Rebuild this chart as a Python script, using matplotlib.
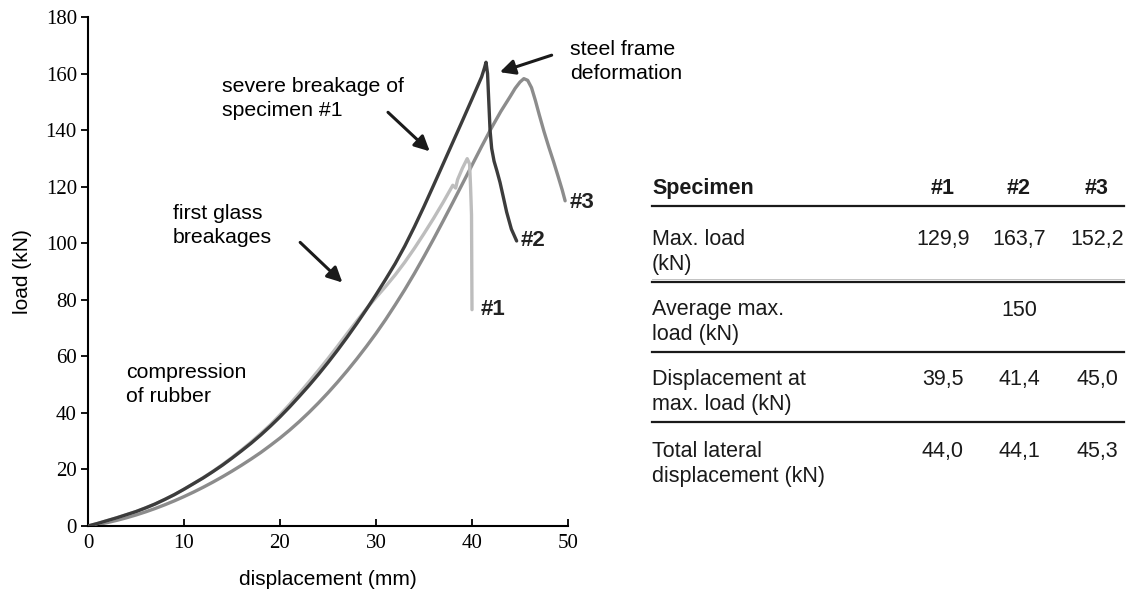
import matplotlib
matplotlib.use("Agg")
import matplotlib.pyplot as plt
from matplotlib.lines import Line2D

# ---- data ----
disp_1 = [0, 1, 2, 3, 4, 5, 6, 7, 8, 9, 10, 11, 12, 13, 14, 15, 16, 17, 18, 19, 20, 21, 22, 23, 24, 25, 26,
          27, 28, 29, 30, 31, 32, 33, 34, 35, 36, 37, 38, 38.3, 38.5, 39, 39.5, 39.75, 39.85, 39.95, 40.0]
load_1 = [0, 0.9, 1.9, 2.9, 4, 5.1, 6.4, 7.8, 9.4, 11.1, 13, 15, 17.1, 19.3, 21.7, 24.2, 26.9, 29.7, 32.7, 35.8,
          39.3, 43, 46.9, 50.9, 55, 59.2, 63.6, 68.1, 72.5, 76.8, 80.8, 84.7, 88.8, 93.3, 98.2, 103.4, 108.8,
          114.5, 120.5, 119.5, 122.5, 126.5, 129.9, 128, 120, 110, 76.5]

disp_2 = [0, 1, 2, 3, 4, 5, 6, 7, 8, 9, 10, 11, 12, 13, 14, 15, 16, 17, 18, 19, 20, 21, 22, 23, 24, 25, 26,
          27, 28, 29, 30, 31, 32, 33, 34, 35, 36, 37, 38, 39, 40, 41, 41.3, 41.46,
          41.62, 41.75, 41.88, 42.05, 42.3, 42.6, 42.92, 43.25, 43.61, 44.1, 44.65]
load_2 = [0, 0.9, 1.9, 2.9, 4, 5.1, 6.4, 7.8, 9.4, 11.1, 13, 15, 17, 19.2, 21.5, 24, 26.6, 29.3, 32.2, 35.3,
          38.6, 42.1, 45.8, 49.6, 53.6, 57.8, 62.2, 66.8, 71.6, 76.6, 81.8, 87.2, 92.8, 99, 105.8, 113, 120.5,
          128.1, 135.7, 143.3, 151, 158.8, 162, 164,
          160, 150, 140, 133.5, 129, 125.5, 121.5, 116.5, 111, 105, 100.8]

disp_3 = [0, 1, 2, 3, 4, 5, 6, 7, 8, 9, 10, 11, 12, 13, 14, 15, 16, 17, 18, 19, 20, 21, 22, 23, 24, 25, 26,
          27, 28, 29, 30, 31, 32, 33, 34, 35, 36, 37, 38, 39, 40, 41, 42, 43, 44, 44.5, 45, 45.4, 45.8,
          46.2, 46.6, 47, 47.5, 48, 48.5, 49, 49.4, 49.7]
load_3 = [0, 0.5, 1.2, 2, 2.9, 3.9, 5, 6.2, 7.5, 8.9, 10.4, 12, 13.7, 15.5, 17.4, 19.4, 21.5, 23.7, 26, 28.5,
          31.1, 33.9, 36.9, 40.1, 43.5, 47.1, 50.9, 54.9, 59.1, 63.5, 68.1, 73, 78.2, 83.6, 89.3, 95.3, 101.5,
          107.9, 114.4, 121, 127.6, 134.2, 140.6, 146.6, 152, 154.8, 157, 158.2, 157.6,
          155, 150.5, 145.5, 139.5, 134, 128.8, 123.3, 118.8, 115]

x_ticks = [0, 10, 20, 30, 40, 50]
y_ticks = [0, 20, 40, 60, 80, 100, 120, 140, 160, 180]

table_header = ["Specimen", "#1", "#2", "#3"]
table_rows = ["Max. load\n(kN)", "Average max.\nload (kN)", "Displacement at\nmax. load (kN)",
              "Total lateral\ndisplacement (kN)"]
table_vals = [["129,9", "163,7", "152,2"], ["", "150", ""], ["39,5", "41,4", "45,0"], ["44,0", "44,1", "45,3"]]

# ---- figure ----
W, H = 1128, 594
fig = plt.figure(figsize=(W / 100, H / 100), dpi=100)
fig.patch.set_facecolor("white")
ax = fig.add_axes([88 / W, 1 - 526 / H, (568 - 88) / W, (526 - 17) / H])

sans = "Liberation Sans"
serif = "Liberation Serif"

ax.plot(disp_3, load_3, color="#8c8c8c", lw=2.4, solid_capstyle="round", solid_joinstyle="round", zorder=2)
ax.plot(disp_1, load_1, color="#bdbdbd", lw=2.4, solid_capstyle="round", solid_joinstyle="round", zorder=3)
ax.plot(disp_2, load_2, color="#3c3c3c", lw=2.4, solid_capstyle="round", solid_joinstyle="round", zorder=4)

ax.set_xlim(0, 50)
ax.set_ylim(0, 180)
ax.set_xticks(x_ticks)
ax.set_yticks(y_ticks)
for s in ["top", "right"]:
    ax.spines[s].set_visible(False)
for s in ["left", "bottom"]:
    ax.spines[s].set_linewidth(1.5)
ax.tick_params(axis="y", direction="out", length=5, width=1.3, labelsize=15, pad=3)
ax.tick_params(axis="x", direction="in", length=5, width=1.3, labelsize=15, pad=6)
for lab in ax.get_xticklabels() + ax.get_yticklabels():
    lab.set_fontfamily(serif)

ax.set_xlabel("displacement (mm)", fontsize=15, fontfamily=sans, labelpad=12)
ax.set_ylabel("load (kN)", fontsize=15, fontfamily=sans, labelpad=10)

fs = 15.3
ls = 1.32
ax.text(13.96, 151.3, "severe breakage of\nspecimen #1", fontsize=fs, fontfamily=sans,
        va="center", ha="left", linespacing=ls)
ax.text(50.2, 164.4, "steel frame\ndeformation", fontsize=fs, fontfamily=sans,
        va="center", ha="left", linespacing=ls, clip_on=False)
ax.text(8.85, 106.3, "first glass\nbreakages", fontsize=fs, fontfamily=sans,
        va="center", ha="left", linespacing=ls)
ax.text(3.96, 50, "compression\nof rubber", fontsize=fs, fontfamily=sans,
        va="center", ha="left", linespacing=ls)

arrow = dict(arrowstyle="-|>,head_length=0.9,head_width=0.45", color="#1a1a1a", lw=2.2,
             shrinkA=0, shrinkB=0)
ax.annotate("", xy=(35.6, 132.5), xytext=(31.25, 146.3), arrowprops=arrow)
ax.annotate("", xy=(42.9, 160.5), xytext=(48.3, 166.5), arrowprops=arrow, annotation_clip=False)
ax.annotate("", xy=(26.5, 86.1), xytext=(22.1, 100.3), arrowprops=arrow)

lab_kw = dict(fontsize=16, fontfamily=sans, fontweight="bold", va="center", ha="left", color="#222222")
ax.text(40.9, 76.5, "#1", **lab_kw)
ax.text(45.1, 101, "#2", **lab_kw)
ax.text(50.2, 114.5, "#3", clip_on=False, **lab_kw)

# ---- table (figure pixel coordinates) ----
def fx(px):
    return px / W

def fy(py):
    return 1 - py / H

tx0, tx1 = 652, 1124
col_x = [943, 1019, 1097]
tfs = 15.5
fig.text(fx(tx0), fy(189), table_header[0], fontsize=tfs, fontfamily=sans, fontweight="bold",
         va="center", ha="left", color="#1a1a1a")
for cx, h in zip(col_x, table_header[1:]):
    fig.text(fx(cx), fy(189), h, fontsize=tfs, fontfamily=sans, fontweight="bold",
             va="center", ha="center", color="#1a1a1a")

line_y = [206, 282, 352, 422]
for ly in line_y:
    fig.add_artist(Line2D([fx(tx0), fx(tx1)], [fy(ly), fy(ly)], color="#1a1a1a", lw=1.6))
fig.add_artist(Line2D([fx(tx0), fx(tx1)], [fy(279), fy(279)], color="#b8b8b8", lw=0.6))

row_top = [240, 310, 380, 452]
for ry, name, vals in zip(row_top, table_rows, table_vals):
    fig.text(fx(tx0), fy(ry + 12), name, fontsize=tfs, fontfamily=sans, va="center", ha="left",
             linespacing=1.27, color="#1a1a1a")
    for cx, v in zip(col_x, vals):
        if v:
            fig.text(fx(cx), fy(ry), v, fontsize=tfs, fontfamily=sans, va="center", ha="center",
                     color="#1a1a1a")

fig.savefig("out.png", dpi=100, facecolor="white")
